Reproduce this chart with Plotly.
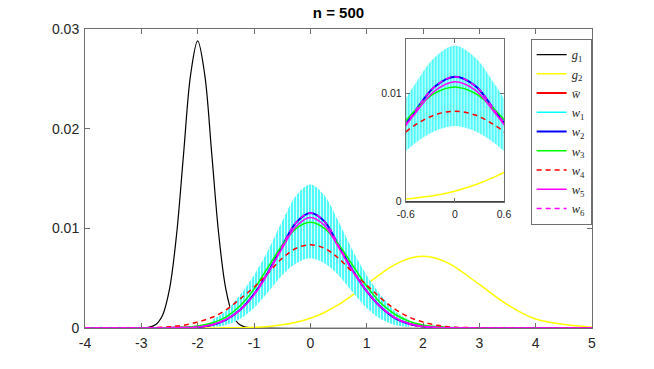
import plotly.graph_objects as go

# ---------------- data ----------------
# common x grid for the smooth curves
xs = [-4, -3, -2.5, -2.25, -2, -1.75, -1.5, -1.25, -1, -0.75, -0.5, -0.25, 0,
      0.25, 0.5, 0.75, 1, 1.25, 1.5, 1.75, 2, 2.25, 2.5, 3, 3.5, 4, 5]

# g1 needs a finer grid (narrow peak at -2)
g1_x = [-4, -3, -2.875, -2.75, -2.625, -2.5, -2.375, -2.25, -2.125, -2, -1.875,
        -1.75, -1.625, -1.5, -1.375, -1.25, -1.125, -1, 5]
g1_y = [0, 0.00001, 0.00006, 0.00032, 0.00126, 0.0039, 0.00935, 0.01747, 0.02542,
        0.0288, 0.02542, 0.01747, 0.00935, 0.0039, 0.00126, 0.00032, 0.00006,
        0.00001, 0]

g2_y = [0, 0, 0, 0, 0, 0.000006, 0.000016, 0.000037, 0.00008, 0.00016, 0.00032,
        0.00057, 0.00097, 0.00156, 0.00234, 0.0033, 0.00437, 0.00543, 0.00635,
        0.00698, 0.0072, 0.00698, 0.00635, 0.00437, 0.00234, 0.0009, 0.00008]

wbar_y = [0, 0, 0.00001, 0.00003, 0.0001, 0.0003, 0.00082, 0.0018, 0.0034, 0.0056,
          0.0082, 0.0106, 0.0115, 0.0106, 0.0083, 0.0058, 0.0037, 0.0021, 0.0010,
          0.00042, 0.00015, 0.00005, 0.00001, 0, 0, 0, 0]

w2_y = [0, 0, 0.00001, 0.00003, 0.0001, 0.0003, 0.00082, 0.0018, 0.0034, 0.0056,
        0.0082, 0.0106, 0.01155, 0.0107, 0.0083, 0.0058, 0.0037, 0.0021, 0.0010,
        0.00042, 0.00015, 0.00005, 0.00001, 0, 0, 0, 0]

w3_y = [0, 0, 0.00002, 0.00007, 0.0002, 0.0005, 0.0011, 0.0022, 0.0039, 0.0061,
        0.0083, 0.0100, 0.0106, 0.0100, 0.0084, 0.0063, 0.0042, 0.0025, 0.00138,
        0.00068, 0.0003, 0.00012, 0.00004, 0, 0, 0, 0]

w4_y = [0, 0.00002, 0.00012, 0.00027, 0.0006, 0.00105, 0.0018, 0.0029, 0.0041,
        0.0055, 0.0070, 0.0080, 0.00835, 0.0080, 0.0070, 0.0056, 0.0043, 0.0030,
        0.0019, 0.0011, 0.0006, 0.00027, 0.0001, 0.00002, 0, 0, 0]

w5_y = [0, 0, 0.00001, 0.00004, 0.00011, 0.00033, 0.00085, 0.0018, 0.0033, 0.0055,
        0.0080, 0.0102, 0.01108, 0.0103, 0.0081, 0.0057, 0.0037, 0.0021, 0.00105,
        0.00045, 0.00017, 0.00006, 0.00002, 0, 0, 0, 0]

w6_y = [0, 0, 0.00001, 0.00003, 0.0001, 0.0003, 0.00082, 0.0018, 0.0034, 0.0056,
        0.0082, 0.0106, 0.01155, 0.0107, 0.0083, 0.0058, 0.0037, 0.0021, 0.0010,
        0.00042, 0.00015, 0.00005, 0.00001, 0, 0, 0, 0]

# w1: spread of the estimates (upper / lower envelope of the cyan bars)
w1_x = [-1.75, -1.5, -1.25, -1, -0.75, -0.5, -0.25, 0, 0.25, 0.5, 0.75, 1, 1.25,
        1.5, 1.75]
w1_upper = [0.0008, 0.0017, 0.0033, 0.0053, 0.0078, 0.0107, 0.0133, 0.0144, 0.0133,
            0.0107, 0.0078, 0.0053, 0.0033, 0.0017, 0.0008]
w1_lower = [0.0001, 0.0003, 0.0009, 0.0020, 0.0036, 0.0053, 0.0065, 0.0070, 0.0065,
            0.0053, 0.0036, 0.0020, 0.0009, 0.0003, 0.0001]

x_ticks = [-4, -3, -2, -1, 0, 1, 2, 3, 4, 5]
x_ticktext = ["-4", "-3", "-2", "-1", "0", "1", "2", "3", "4", "5"]
y_ticks = [0, 0.01, 0.02, 0.03]
y_ticktext = ["0", "0.01", "0.02", "0.03"]
inset_x_ticks = [-0.6, 0, 0.6]
inset_x_ticktext = ["-0.6", "0", "0.6"]
inset_y_ticks = [0, 0.01]
inset_y_ticktext = ["0", "0.01"]

title_text = "n = 500"

# ---------------- figure ----------------
AX = "#6e6e6e"
TXT = "#262626"
SANS = "Liberation Sans, Arial, sans-serif"
SERIF = "Liberation Serif, Times New Roman, serif"

series = [
    ("<i>g</i><sub>1</sub>", g1_x, g1_y, "#000000", 1.2, "solid"),
    ("<i>g</i><sub>2</sub>", xs, g2_y, "#ffff00", 1.5, "solid"),
    ("<i>w\u0304</i>", xs, wbar_y, "#ff0000", 2.0, "solid"),
    ("W1", None, None, None, None, None),
    ("<i>w</i><sub>2</sub>", xs, w2_y, "#0000ff", 2.0, "solid"),
    ("<i>w</i><sub>3</sub>", xs, w3_y, "#00ff00", 1.5, "solid"),
    ("<i>w</i><sub>4</sub>", xs, w4_y, "#ff0000", 1.5, "5px,4px"),
    ("<i>w</i><sub>5</sub>", xs, w5_y, "#ff00ff", 1.5, "solid"),
    ("<i>w</i><sub>6</sub>", xs, w6_y, "#ff00ff", 1.5, "5px,4px"),
]

fig = go.Figure()

def add_band(xa, ya):
    fig.add_trace(go.Scatter(x=w1_x, y=w1_lower, mode="lines",
                             line=dict(color="rgba(0,0,0,0)", width=0, shape="spline"),
                             showlegend=False, hoverinfo="skip", xaxis=xa, yaxis=ya))
    fig.add_trace(go.Scatter(x=w1_x, y=w1_upper, mode="lines",
                             line=dict(color="rgba(0,0,0,0)", width=0, shape="spline"),
                             fill="tonexty", fillcolor="rgb(90,250,250)",
                             fillpattern=dict(shape="|", bgcolor="rgb(80,250,250)",
                                              fgcolor="rgba(255,255,255,0.85)",
                                              size=3, solidity=0.3, fillmode="replace"),
                             showlegend=False, hoverinfo="skip", xaxis=xa, yaxis=ya))

for xa, ya, show in [("x", "y", True), ("x2", "y2", False)]:
    for name, sx, sy, col, lw, dash in series:
        if name == "W1":
            add_band(xa, ya)
            if show:
                fig.add_trace(go.Scatter(x=[None], y=[None], mode="lines",
                                         name="<i>w</i><sub>1</sub>",
                                         line=dict(color="#00ffff", width=1.5)))
            continue
        fig.add_trace(go.Scatter(x=sx, y=sy, mode="lines", name=name,
                                 line=dict(color=col, width=lw, dash=dash,
                                           shape="spline", smoothing=1.0),
                                 showlegend=show, xaxis=xa, yaxis=ya))

axis_common = dict(showgrid=False, zeroline=False, showline=True, linecolor=AX,
                   linewidth=1, mirror="ticks", ticks="inside", tickcolor=AX)

fig.update_layout(
    width=654, height=369,
    margin=dict(l=85, r=62, t=29, b=41),
    paper_bgcolor="white", plot_bgcolor="white",
    font=dict(family=SANS, color=TXT),
    title=dict(text="<b>" + title_text + "</b>", x=338.5 / 654, xanchor="center",
               y=1 - 12.5 / 369, yanchor="middle", yref="container",
               font=dict(family=SANS, size=15, color="#000000")),
    xaxis=dict(range=[-4, 5], tickvals=x_ticks, ticktext=x_ticktext, ticklen=5,
               tickfont=dict(size=14, color=TXT), ticklabelstandoff=2, **axis_common),
    yaxis=dict(range=[0, 0.03], tickvals=y_ticks, ticktext=y_ticktext, ticklen=5,
               tickfont=dict(size=14, color=TXT), ticklabelstandoff=2, **axis_common),
    xaxis2=dict(domain=[0.6325, 0.8264], anchor="y2", range=[-0.6, 0.6],
                tickvals=inset_x_ticks, ticktext=inset_x_ticktext, ticklen=4,
                tickfont=dict(size=10.5, color=TXT), ticklabelstandoff=3, **axis_common),
    yaxis2=dict(domain=[0.4224, 0.9656], anchor="x2", range=[0, 0.015],
                tickvals=inset_y_ticks, ticktext=inset_y_ticktext, ticklen=4,
                tickfont=dict(size=10.5, color=TXT), ticklabelstandoff=1, **axis_common),
    legend=dict(x=0.879, y=0.9666, xanchor="left", yanchor="top",
                bgcolor="white", bordercolor=AX, borderwidth=1,
                font=dict(family=SERIF, size=12.5, color=TXT),
                itemwidth=30, tracegroupgap=0, traceorder="normal"),
    showlegend=True,
)

fig.write_html("out.html", config={"displayModeBar": False},
               post_script="document.body.style.margin='0';")
